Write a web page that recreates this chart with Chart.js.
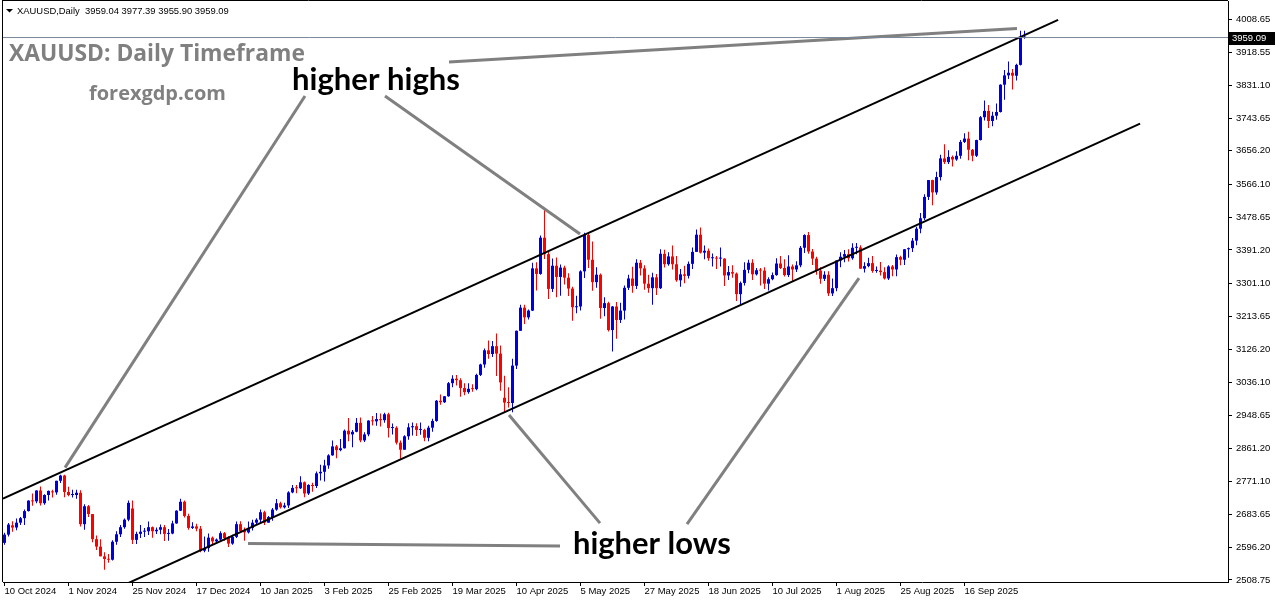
<!DOCTYPE html>
<html><head><meta charset="utf-8">
<script src="https://cdn.jsdelivr.net/npm/chart.js@4.4.1/dist/chart.umd.min.js"></script>
<style>html,body{margin:0;padding:0;background:#fff;overflow:hidden}canvas{display:block}</style>
</head><body>
<canvas id="c" width="1276" height="604"></canvas>
<script>
// ---------- DATA ----------
const symbolTitle = 'XAUUSD,Daily';
const dates = [
'2024-10-10','2024-10-11','2024-10-14','2024-10-15','2024-10-16','2024-10-17','2024-10-18','2024-10-21','2024-10-22','2024-10-23','2024-10-24','2024-10-25','2024-10-28','2024-10-29','2024-10-30','2024-10-31',
'2024-11-01','2024-11-04','2024-11-05','2024-11-06','2024-11-07','2024-11-08','2024-11-11','2024-11-12','2024-11-13','2024-11-14','2024-11-15','2024-11-18','2024-11-19','2024-11-20','2024-11-21','2024-11-22','2024-11-25','2024-11-26','2024-11-27','2024-11-28','2024-11-29',
'2024-12-02','2024-12-03','2024-12-04','2024-12-05','2024-12-06','2024-12-09','2024-12-10','2024-12-11','2024-12-12','2024-12-13','2024-12-16','2024-12-17','2024-12-18','2024-12-19','2024-12-20','2024-12-23','2024-12-24','2024-12-26','2024-12-27','2024-12-30','2024-12-31',
'2025-01-02','2025-01-03','2025-01-06','2025-01-07','2025-01-08','2025-01-09','2025-01-10','2025-01-13','2025-01-14','2025-01-15','2025-01-16','2025-01-17','2025-01-20','2025-01-21','2025-01-22','2025-01-23','2025-01-24','2025-01-27','2025-01-28','2025-01-29','2025-01-30','2025-01-31',
'2025-02-03','2025-02-04','2025-02-05','2025-02-06','2025-02-07','2025-02-10','2025-02-11','2025-02-12','2025-02-13','2025-02-14','2025-02-17','2025-02-18','2025-02-19','2025-02-20','2025-02-21','2025-02-24','2025-02-25','2025-02-26','2025-02-27','2025-02-28',
'2025-03-03','2025-03-04','2025-03-05','2025-03-06','2025-03-07','2025-03-10','2025-03-11','2025-03-12','2025-03-13','2025-03-14','2025-03-17','2025-03-18','2025-03-19','2025-03-20','2025-03-21','2025-03-24','2025-03-25','2025-03-26','2025-03-27','2025-03-28','2025-03-31',
'2025-04-01','2025-04-02','2025-04-03','2025-04-04','2025-04-07','2025-04-08','2025-04-09','2025-04-10','2025-04-11','2025-04-14','2025-04-15','2025-04-16','2025-04-17','2025-04-21','2025-04-22','2025-04-23','2025-04-24','2025-04-25','2025-04-28','2025-04-29','2025-04-30',
'2025-05-01','2025-05-02','2025-05-05','2025-05-06','2025-05-07','2025-05-08','2025-05-09','2025-05-12','2025-05-13','2025-05-14','2025-05-15','2025-05-16','2025-05-19','2025-05-20','2025-05-21','2025-05-22','2025-05-23','2025-05-26','2025-05-27','2025-05-28','2025-05-29','2025-05-30',
'2025-06-02','2025-06-03','2025-06-04','2025-06-05','2025-06-06','2025-06-09','2025-06-10','2025-06-11','2025-06-12','2025-06-13','2025-06-16','2025-06-17','2025-06-18','2025-06-19','2025-06-20','2025-06-23','2025-06-24','2025-06-25','2025-06-26','2025-06-27','2025-06-30',
'2025-07-01','2025-07-02','2025-07-03','2025-07-04','2025-07-07','2025-07-08','2025-07-09','2025-07-10','2025-07-11','2025-07-14','2025-07-15','2025-07-16','2025-07-17','2025-07-18','2025-07-21','2025-07-22','2025-07-23','2025-07-24','2025-07-25','2025-07-28','2025-07-29','2025-07-30','2025-07-31',
'2025-08-01','2025-08-04','2025-08-05','2025-08-06','2025-08-07','2025-08-08','2025-08-11','2025-08-12','2025-08-13','2025-08-14','2025-08-15','2025-08-18','2025-08-19','2025-08-20','2025-08-21','2025-08-22','2025-08-25','2025-08-26','2025-08-27','2025-08-28','2025-08-29',
'2025-09-01','2025-09-02','2025-09-03','2025-09-04','2025-09-05','2025-09-08','2025-09-09','2025-09-10','2025-09-11','2025-09-12','2025-09-15','2025-09-16','2025-09-17','2025-09-18','2025-09-19','2025-09-22','2025-09-23','2025-09-24','2025-09-25','2025-09-26','2025-09-29','2025-09-30',
'2025-10-01','2025-10-02','2025-10-03','2025-10-06','2025-10-07'
];
const open = [
2608,2630,2655,2649,2662,2674,2693,2721,2719,2748,2714,2736,2744,2743,2774,2788,
2744,2736,2736,2742,2658,2706,2685,2618,2598,2572,2565,2563,2611,2631,2650,2670,2700,2616,2632,2638,2639,
2650,2639,2643,2650,2632,2633,2660,2694,2718,2680,2648,2652,2646,2587,2594,2622,2612,2617,2634,2621,2606,
2624,2658,2640,2636,2648,2662,2670,2690,2662,2677,2697,2714,2703,2708,2743,2755,2754,2770,2740,2763,2760,2794,
2798,2815,2842,2866,2856,2861,2908,2898,2905,2929,2882,2898,2935,2933,2939,2936,2952,2915,2916,2876,
2857,2893,2917,2920,2910,2910,2889,2916,2934,2988,2984,3000,3035,3047,3043,3022,3011,3020,3019,3057,3085,
3123,3113,3134,3114,2996,2983,2982,3082,3175,3237,3211,3229,3342,3327,3424,3380,3287,3349,3319,3344,3317,
3288,3238,3240,3334,3431,3365,3305,3325,3236,3249,3177,3240,3204,3229,3290,3315,3295,3357,3342,3301,3289,3318,
3289,3381,3353,3374,3353,3310,3326,3322,3354,3386,3432,3384,3389,3369,3369,3368,3368,3323,3332,3328,3273,
3303,3338,3357,3326,3337,3336,3301,3313,3324,3355,3343,3324,3347,3339,3350,3397,3431,3387,3368,3336,3314,3325,3275,
3289,3363,3373,3380,3369,3397,3398,3341,3348,3356,3335,3336,3332,3315,3347,3339,3372,3365,3393,3396,3416,
3448,3476,3533,3578,3545,3586,3636,3626,3640,3633,3643,3680,3689,3659,3643,3685,3746,3763,3736,3750,3760,3833,
3858,3865,3857,3886,3959.04
];
const high = [
2635,2661,2666,2673,2677,2697,2722,2740,2749,2759,2738,2748,2750,2774,2790,2790,
2758,2750,2750,2749,2711,2709,2685,2628,2618,2583,2578,2615,2639,2656,2673,2721,2721,2638,2656,2648,2665,
2652,2649,2657,2656,2645,2667,2695,2726,2721,2686,2663,2659,2653,2625,2633,2625,2620,2639,2637,2626,2630,
2665,2666,2649,2665,2670,2674,2697,2694,2680,2701,2725,2718,2715,2746,2763,2763,2786,2772,2765,2769,2799,2817,
2830,2845,2882,2870,2886,2911,2942,2910,2942,2943,2904,2936,2947,2955,2954,2956,2956,2927,2920,2882,
2896,2928,2930,2928,2930,2913,2921,2940,2990,3005,3001,3038,3056,3057,3048,3035,3035,3032,3060,3087,3128,
3149,3148,3168,3136,3055,3024,3100,3176,3245,3245,3232,3357,3358,3430,3500,3386,3368,3371,3352,3349,3329,
3293,3269,3337,3437,3435,3414,3345,3328,3265,3253,3241,3252,3250,3296,3325,3346,3366,3364,3350,3325,3330,3327,
3393,3392,3385,3403,3375,3340,3349,3360,3398,3446,3451,3403,3395,3382,3375,3398,3369,3348,3350,3331,3307,
3358,3365,3366,3343,3343,3345,3318,3331,3369,3375,3366,3377,3352,3361,3402,3433,3439,3394,3373,3345,3334,3334,3315,
3363,3385,3391,3393,3409,3410,3404,3358,3370,3375,3347,3359,3345,3350,3351,3379,3376,3394,3398,3423,3453,
3490,3540,3578,3579,3600,3646,3674,3658,3644,3655,3685,3703,3707,3661,3686,3749,3791,3779,3761,3783,3834,3872,
3895,3875,3889,3977,3977.39
];
const low = [
2603,2625,2638,2642,2656,2656,2692,2707,2714,2708,2710,2721,2729,2737,2768,2730,
2733,2729,2726,2652,2643,2677,2610,2589,2572,2536,2555,2561,2603,2624,2646,2666,2605,2605,2621,2624,2629,
2622,2632,2631,2613,2614,2631,2659,2693,2676,2643,2645,2639,2583,2583,2584,2602,2608,2614,2614,2597,2603,
2621,2635,2614,2633,2641,2656,2659,2656,2662,2667,2694,2700,2700,2701,2741,2741,2752,2730,2736,2745,2755,2775,
2772,2806,2841,2834,2853,2860,2880,2864,2904,2877,2878,2893,2922,2921,2919,2929,2890,2898,2871,2833,
2857,2884,2895,2894,2897,2880,2880,2905,2932,2977,2982,2999,3024,3029,2999,3003,3007,3012,3016,3054,3076,
3100,3105,3054,3015,2957,2970,2957,3073,3175,3193,3205,3228,3283,3325,3367,3260,3279,3265,3269,3299,3268,
3202,3222,3229,3316,3343,3282,3290,3207,3214,3173,3120,3154,3196,3205,3284,3277,3287,3323,3285,3277,3245,3271,
3287,3344,3349,3339,3306,3293,3302,3315,3340,3386,3382,3366,3362,3347,3340,3347,3295,3311,3317,3255,3247,
3296,3329,3311,3323,3296,3287,3283,3310,3322,3340,3320,3319,3309,3332,3345,3383,3381,3351,3325,3301,3308,3268,3268,
3281,3345,3358,3360,3365,3380,3341,3331,3345,3330,3330,3323,3312,3311,3321,3321,3350,3351,3370,3386,3404,
3436,3471,3525,3511,3539,3577,3621,3621,3614,3630,3635,3677,3631,3628,3640,3684,3737,3717,3722,3739,3759,3793,
3848,3820,3844,3884,3955.90
];
const close = [
2630,2657,2649,2662,2674,2693,2721,2719,2748,2714,2736,2747,2743,2774,2788,2744,
2736,2736,2742,2658,2706,2685,2618,2598,2572,2565,2563,2611,2631,2650,2670,2715,2616,2632,2638,2639,2650,
2639,2643,2650,2632,2633,2660,2694,2718,2680,2648,2652,2646,2587,2594,2622,2612,2617,2634,2621,2606,2624,
2658,2640,2636,2648,2662,2670,2690,2662,2677,2697,2714,2703,2708,2743,2755,2754,2770,2740,2763,2760,2794,2798,
2815,2842,2866,2856,2861,2908,2898,2905,2929,2882,2898,2935,2933,2939,2936,2952,2915,2916,2876,2857,
2893,2917,2920,2910,2910,2889,2916,2934,2988,2984,3000,3035,3047,3043,3022,3011,3020,3019,3057,3085,3123,
3113,3134,3114,3037,2983,2982,3082,3175,3237,3211,3229,3342,3327,3424,3380,3287,3349,3319,3344,3317,3288,
3238,3240,3334,3431,3365,3305,3325,3236,3249,3177,3240,3204,3229,3290,3315,3295,3357,3342,3301,3289,3318,3289,
3381,3353,3374,3353,3310,3326,3322,3354,3386,3432,3384,3389,3369,3369,3368,3368,3323,3332,3328,3273,3303,
3338,3357,3326,3337,3336,3301,3313,3324,3355,3343,3324,3347,3339,3350,3397,3431,3387,3368,3336,3314,3325,3275,3289,
3363,3373,3380,3369,3397,3398,3341,3348,3356,3335,3336,3332,3315,3347,3339,3372,3365,3393,3396,3416,3448,
3476,3533,3578,3545,3586,3636,3626,3640,3633,3643,3680,3689,3659,3643,3685,3746,3763,3736,3750,3760,3833,3858,
3865,3857,3886,3960,3959.09
];
// x-axis labels (bar index of each label) and price-axis labels
const xTickIndex  = [0,16,32,48,64,80,96,112,128,144,160,176,192,208,224,240];
const xTickLabels = ['10 Oct 2024','1 Nov 2024','25 Nov 2024','17 Dec 2024','10 Jan 2025','3 Feb 2025','25 Feb 2025','19 Mar 2025','10 Apr 2025','5 May 2025','27 May 2025','18 Jun 2025','10 Jul 2025','1 Aug 2025','25 Aug 2025','16 Sep 2025'];
const yTickValues = [4008.65,3918.55,3831.10,3743.65,3656.20,3566.10,3478.65,3391.20,3301.10,3213.65,3126.20,3036.10,2948.65,2861.20,2771.10,2683.65,2596.20,2508.75];
// drawn objects, in (bar index, price)
const channelUpper = [[-0.375,2726.2],[263.4,4006.2]];
const channelLower = [[30.1,2496.5],[283.9,3728.7]];
const arrowLines = [
  [[75.125,3802.8],[15.125,2809.3]],
  [[95.125,3802.8],[143.875,3433.7]],
  [[111.125,3893.7],[253.125,3983.2]],
  [[148.875,2660.9],[126.125,2949.7]],
  [[170.625,2658.3],[213.625,3316.1]],
  [[60.875,2606.1],[138.875,2599.4]]
];
const bidPrice = 3959.09;

// ---------- CHART ----------
const UP = '#0000dd', DN = '#ff0000';
const cols = close.map((c,i)=> c >= open[i] ? UP : DN);
const bodies = close.map((c,i)=>({x:i, y:[open[i], c]}));
const wicks  = close.map((c,i)=>({x:i, y:[low[i], high[i]]}));
const X_MIN = -0.375, X_MAX = 305.875;
const Y_MIN = 2508.75 - 2*2.674, Y_MAX = 4008.65 + 18*2.674;

const toPts = arr => arr.map(p=>({x:p[0], y:p[1]}));
const lineDs = (pts, color, w) => ({type:'line', data:toPts(pts), borderColor:color, borderWidth:w,
  pointRadius:0, fill:false, tension:0, order:0, borderCapStyle:'butt'});

const datasets = [
  {type:'bar', data:wicks, backgroundColor:cols, barThickness:1, grouped:false, borderWidth:0, inflateAmount:0, order:3},
  {type:'bar', data:bodies, backgroundColor:cols, barThickness:3, grouped:false, borderWidth:0, inflateAmount:0, minBarLength:1, order:2},
  lineDs([[X_MIN,bidPrice],[X_MAX,bidPrice]], '#778899', 1),
  lineDs(channelUpper, '#000000', 2),
  lineDs(channelLower, '#000000', 2),
  ...arrowLines.map(l=>lineDs(l, '#808080', 3))
];

function fitSize(ctx, text, weight, family, w){
  ctx.font = weight + ' 100px ' + family;
  return 100 * w / ctx.measureText(text).width;
}

const overlay = {
  id:'overlay',
  beforeDraw(chart){
    const ctx = chart.ctx; ctx.save(); ctx.fillStyle='#fff'; ctx.fillRect(0,0,chart.width,chart.height); ctx.restore();
  },
  afterDraw(chart){
    const ctx = chart.ctx, ca = chart.chartArea, ys = chart.scales.y;
    ctx.save();
    // frame
    ctx.strokeStyle='#000'; ctx.lineWidth=1;
    ctx.beginPath(); ctx.moveTo(2.5, 0); ctx.lineTo(2.5, ca.bottom); ctx.moveTo(2, 0.5); ctx.lineTo(ca.right, 0.5); ctx.stroke();
    // header
    ctx.fillStyle='#000';
    ctx.beginPath(); ctx.moveTo(6,9); ctx.lineTo(13,9); ctx.lineTo(9.5,12.5); ctx.closePath(); ctx.fill();
    const head = symbolTitle + '  ' + [open, high, low, close].map(a=>a[a.length-1].toFixed(2)).join(' ');
    const hs = fitSize(ctx, head, 'normal', '"Liberation Sans"', 212);
    ctx.font = hs.toFixed(2)+'px "Liberation Sans"'; ctx.textBaseline='alphabetic'; ctx.textAlign='left';
    ctx.fillText(head, 17, 14);
    // titles
    ctx.fillStyle='#808080';
    let t='XAUUSD: Daily Timeframe';
    ctx.font = 'bold '+fitSize(ctx,t,'bold','"Open Sans"',296).toFixed(2)+'px "Open Sans"';
    ctx.fillText(t, 9, 61);
    t='forexgdp.com';
    ctx.font = 'bold '+fitSize(ctx,t,'bold','"Open Sans"',137).toFixed(2)+'px "Open Sans"';
    ctx.fillText(t, 89, 100);
    ctx.fillStyle='#000';
    t='higher highs';
    ctx.font = 'bold '+fitSize(ctx,t,'bold','Lato',168).toFixed(2)+'px Lato';
    ctx.fillText(t, 292, 90);
    t='higher lows';
    ctx.font = 'bold '+fitSize(ctx,t,'bold','Lato',158).toFixed(2)+'px Lato';
    ctx.fillText(t, 573, 554);
    // bid price label
    const py = Math.round(ys.getPixelForValue(bidPrice));
    ctx.fillStyle='#000'; ctx.fillRect(ca.right+1, py-6, 46, 13);
    ctx.fillStyle='#fff'; ctx.font='9.5px "Liberation Sans"'; ctx.textBaseline='middle';
    ctx.fillText(bidPrice.toFixed(2), ca.right+4, py+0.5);
    ctx.restore();
  }
};

new Chart(document.getElementById('c'), {
  type:'bar',
  data:{datasets},
  options:{
    responsive:false, animation:false, devicePixelRatio:1,
    layout:{padding:{left:3, top:1, right:0, bottom:0}},
    plugins:{legend:{display:false}, tooltip:{enabled:false}},
    scales:{
      x:{type:'linear', min:X_MIN, max:X_MAX, offset:false,
         afterBuildTicks: s => { s.ticks = xTickIndex.map(v=>({value:v})); },
         afterFit: s => { s.height = 22; s.paddingLeft = 0; s.paddingRight = 0; },
         grid:{display:true, drawOnChartArea:false, offset:false, tickLength:4, color:'#000', tickWidth:1},
         border:{display:true, color:'#000', width:1},
         ticks:{autoSkip:false, maxRotation:0, align:'start', padding:0, color:'#000',
                font:{family:'"Liberation Sans"', size:9.5},
                callback:(v)=>{ const k = xTickIndex.indexOf(v); return k>=0 ? xTickLabels[k] : ''; }}},
      y:{type:'linear', position:'right', min:Y_MIN, max:Y_MAX,
         afterBuildTicks: s => { s.ticks = yTickValues.map(v=>({value:v})); },
         afterFit: s => { s.width = 48; s.paddingTop = 0; s.paddingBottom = 0; },
         grid:{display:true, drawOnChartArea:false, tickLength:4, color:'#000'},
         border:{display:true, color:'#000', width:1},
         ticks:{padding:4, color:'#000', font:{family:'"Liberation Sans"', size:9.5},
                callback:(v)=>Number(v).toFixed(2)}}
    }
  },
  plugins:[overlay]
});
</script>
</body></html>
